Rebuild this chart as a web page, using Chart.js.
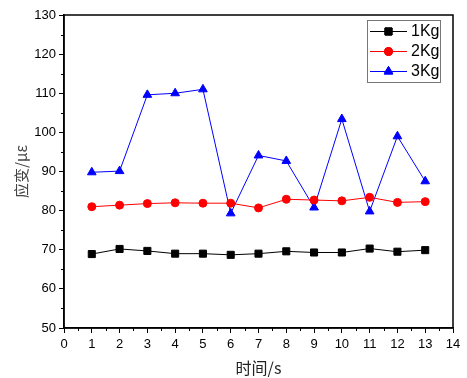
<!DOCTYPE html>
<html><head><meta charset="utf-8">
<script src="https://cdn.jsdelivr.net/npm/chart.js@4/dist/chart.umd.min.js"></script>
<style>html,body{margin:0;padding:0;background:#fff}#wrap{width:467px;height:378px}</style>
</head><body><div id="wrap"><canvas id="c" width="467" height="378"></canvas></div>
<script>
const times = [1,2,3,4,5,6,7,8,9,10,11,12,13];
const series1Kg = [68.9,70.2,69.7,69.0,69.0,68.7,69.0,69.6,69.3,69.3,70.3,69.5,69.9];
const series2Kg = [81.0,81.4,81.8,82.0,81.9,81.9,80.7,82.9,82.7,82.5,83.4,82.1,82.3];
const series3Kg = [89.8,90.1,109.6,110.0,111.0,79.3,94.1,92.7,80.8,103.4,79.8,99.0,87.5];
const seriesLabels = ['1Kg','2Kg','3Kg'];
const xTicks = [0,1,2,3,4,5,6,7,8,9,10,11,12,13,14];
const yTicks = [50,60,70,80,90,100,110,120,130];

const toPts = arr => arr.map((v,i)=>({x:times[i], y:v}));
const TICKFONT = {family:'"Liberation Sans", Arial, sans-serif', size:13};

const framePlugin = {
  id:'frame',
  afterDraw(chart){
    const {ctx, chartArea:a, scales} = chart;
    ctx.save();
    ctx.strokeStyle = '#000'; ctx.lineWidth = 1.5;
    ctx.strokeRect(a.left, a.top, a.right-a.left, a.bottom-a.top);
    // minor ticks
    ctx.lineWidth = 1;
    ctx.beginPath();
    for (let v = 0.5; v < 14; v += 1) {
      const x = Math.round(scales.x.getPixelForValue(v)) + 0.5;
      ctx.moveTo(x, a.bottom); ctx.lineTo(x, a.bottom + 3);
    }
    for (let v = 55; v < 130; v += 10) {
      const y = Math.round(scales.y.getPixelForValue(v)) + 0.5;
      ctx.moveTo(a.left, y); ctx.lineTo(a.left - 3, y);
    }
    ctx.stroke();
    // legend
    const bx = 367, by = 20, bw = 73, bh = 62;
    ctx.fillStyle = '#fff';
    ctx.fillRect(bx, by, bw, bh);
    ctx.strokeStyle = '#777'; ctx.lineWidth = 1;
    ctx.strokeRect(bx+0.5, by+0.5, bw, bh);
    chart.data.datasets.forEach((ds, i) => {
      const cy = 31 + i*20;
      ctx.strokeStyle = ds.borderColor; ctx.lineWidth = 1;
      ctx.beginPath(); ctx.moveTo(370, cy+0.5); ctx.lineTo(407, cy+0.5); ctx.stroke();
      Chart.helpers.drawPoint(ctx, {pointStyle: ds.pointStyle, radius: ds.pointRadius, borderWidth: 1}, 388.5, cy+0.5);
      ctx.fillStyle = ds.pointBackgroundColor;
      ctx.strokeStyle = ds.pointBorderColor;
      ctx.beginPath();
      Chart.helpers.drawPoint(ctx, {pointStyle: ds.pointStyle, radius: ds.pointRadius, borderWidth: 1}, 388.5, cy+0.5);
      ctx.fillStyle = '#000';
      ctx.font = '16px "Liberation Sans", Arial, sans-serif';
      ctx.textBaseline = 'middle'; ctx.textAlign = 'left';
      ctx.fillText(ds.label, 411, cy+1);
    });
    ctx.restore();
  }
};

new Chart(document.getElementById('c'), {
  type:'line',
  data:{
    datasets:[
      {label:seriesLabels[0], data:toPts(series1Kg), borderColor:'#000000', backgroundColor:'#000000',
       pointBackgroundColor:'#000000', pointBorderColor:'#000000', pointStyle:'rect', pointRadius:5, borderWidth:1, tension:0},
      {label:seriesLabels[1], data:toPts(series2Kg), borderColor:'#ff0000', backgroundColor:'#ff0000',
       pointBackgroundColor:'#ff0000', pointBorderColor:'#ff0000', pointStyle:'circle', pointRadius:4, borderWidth:1, tension:0},
      {label:seriesLabels[2], data:toPts(series3Kg), borderColor:'#0000ff', backgroundColor:'#0000ff',
       pointBackgroundColor:'#0000ff', pointBorderColor:'#0000ff', pointStyle:'triangle', pointRadius:5, borderWidth:1, tension:0}
    ]
  },
  options:{
    responsive:false, animation:false, devicePixelRatio:1,
    layout:{padding:{left:0,right:14,top:15,bottom:0}},
    plugins:{legend:{display:false}, tooltip:{enabled:false}},
    elements:{point:{borderWidth:1}},
    scales:{
      x:{type:'linear', min:0, max:14,
        afterBuildTicks(s){ s.ticks = xTicks.map(v=>({value:v})); },
        afterFit(s){ s.height = 50; },
        grid:{drawOnChartArea:false, tickLength:5, color:'#000', lineWidth:1},
        border:{display:true, color:'#000', width:1.5},
        ticks:{color:'#000', font:TICKFONT, padding:4, maxRotation:0, autoSkip:false},
        title:{display:true, text:'时间/s', color:'#222',
          font:{family:'"Noto Sans CJK SC", sans-serif', size:16}, padding:{top:0,bottom:0}}
      },
      y:{type:'linear', min:50, max:130,
        afterBuildTicks(s){ s.ticks = yTicks.map(v=>({value:v})); },
        afterFit(s){ s.width = 64; },
        grid:{drawOnChartArea:false, tickLength:5, color:'#000', lineWidth:1},
        border:{display:true, color:'#000', width:1.5},
        ticks:{color:'#000', font:TICKFONT, padding:3, autoSkip:false},
        title:{display:true, text:'应变/με', color:'#444',
          font:{family:'"Noto Sans CJK SC", sans-serif', size:15}, padding:{top:12,bottom:0}}
      }
    }
  },
  plugins:[framePlugin]
});
</script></body></html>
